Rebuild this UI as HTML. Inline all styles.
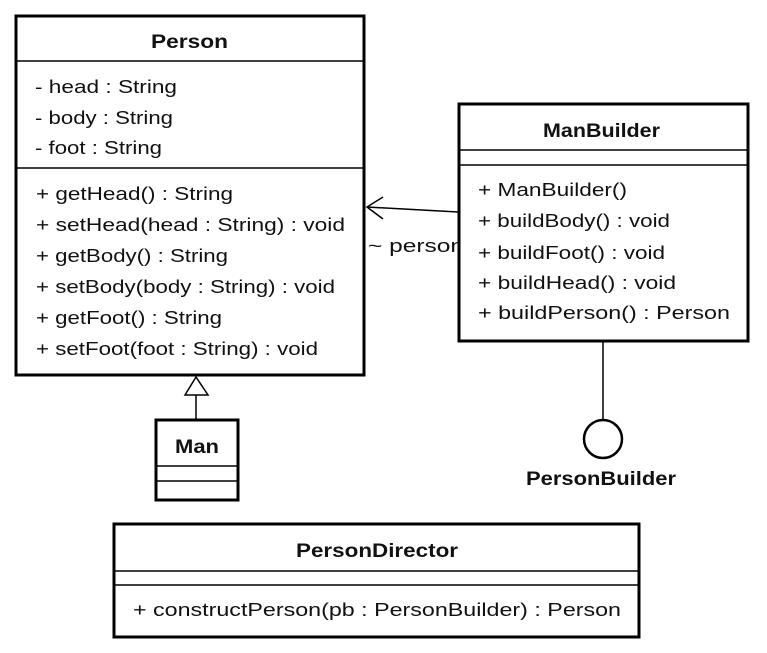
<!DOCTYPE html>
<html><head><meta charset="utf-8"><style>
html,body{margin:0;padding:0;background:#fff;}
svg{display:block;}
text{font-family:"Liberation Sans",Arial,sans-serif;font-size:18px;fill:#111;}
.b{font-weight:bold;font-size:19px;}
</style></head><body>
<svg width="767" height="653" viewBox="0 0 767 653" xmlns="http://www.w3.org/2000/svg">
<rect width="767" height="653" fill="#fff"/>
<!-- Person -->
<rect x="16" y="16" width="348" height="359" fill="#fff" stroke="#000" stroke-width="3"/>
<line x1="16" y1="61" x2="364" y2="61" stroke="#000" stroke-width="1.5"/>
<line x1="16" y1="168" x2="364" y2="168" stroke="#000" stroke-width="1.5"/>
<text class="b" x="151" y="48" textLength="77" lengthAdjust="spacingAndGlyphs">Person</text>
<text x="35" y="93" textLength="142" lengthAdjust="spacingAndGlyphs">- head : String</text>
<text x="35" y="124" textLength="138" lengthAdjust="spacingAndGlyphs">- body : String</text>
<text x="35" y="154" textLength="127" lengthAdjust="spacingAndGlyphs">- foot : String</text>
<text x="36" y="200" textLength="197" lengthAdjust="spacingAndGlyphs">+ getHead() : String</text>
<text x="36" y="231" textLength="309" lengthAdjust="spacingAndGlyphs">+ setHead(head : String) : void</text>
<text x="36" y="262" textLength="192" lengthAdjust="spacingAndGlyphs">+ getBody() : String</text>
<text x="36" y="293" textLength="299" lengthAdjust="spacingAndGlyphs">+ setBody(body : String) : void</text>
<text x="36" y="324" textLength="186" lengthAdjust="spacingAndGlyphs">+ getFoot() : String</text>
<text x="36" y="355" textLength="282" lengthAdjust="spacingAndGlyphs">+ setFoot(foot : String) : void</text>
<!-- generalization -->
<polygon points="196,377 185,395 208,395" fill="#fff" stroke="#000" stroke-width="1.5"/>
<line x1="196" y1="395" x2="196" y2="420" stroke="#000" stroke-width="1.5"/>
<!-- Man -->
<rect x="156" y="420" width="82" height="80" fill="#fff" stroke="#000" stroke-width="3"/>
<line x1="156" y1="466" x2="238" y2="466" stroke="#000" stroke-width="1.5"/>
<line x1="156" y1="481" x2="238" y2="481" stroke="#000" stroke-width="1.5"/>
<text class="b" x="175" y="453" textLength="44" lengthAdjust="spacingAndGlyphs">Man</text>
<!-- association -->
<line x1="458" y1="212" x2="367" y2="207" stroke="#000" stroke-width="1.5"/>
<polyline points="383,197 367,207 383,219" fill="none" stroke="#000" stroke-width="1.5"/>
<text x="368" y="252" textLength="96" lengthAdjust="spacingAndGlyphs">~ person</text>
<!-- ManBuilder -->
<rect x="459" y="104" width="289" height="237" fill="#fff" stroke="#000" stroke-width="3"/>
<line x1="459" y1="150" x2="748" y2="150" stroke="#000" stroke-width="1.5"/>
<line x1="459" y1="165" x2="748" y2="165" stroke="#000" stroke-width="1.5"/>
<text class="b" x="543" y="137" textLength="117" lengthAdjust="spacingAndGlyphs">ManBuilder</text>
<text x="478" y="196" textLength="149" lengthAdjust="spacingAndGlyphs">+ ManBuilder()</text>
<text x="478" y="227" textLength="192" lengthAdjust="spacingAndGlyphs">+ buildBody() : void</text>
<text x="478" y="259" textLength="187" lengthAdjust="spacingAndGlyphs">+ buildFoot() : void</text>
<text x="478" y="289" textLength="198" lengthAdjust="spacingAndGlyphs">+ buildHead() : void</text>
<text x="478" y="319" textLength="252" lengthAdjust="spacingAndGlyphs">+ buildPerson() : Person</text>
<!-- interface -->
<line x1="603" y1="342" x2="603" y2="420" stroke="#000" stroke-width="1.5"/>
<circle cx="603" cy="439" r="19" fill="#fff" stroke="#000" stroke-width="2.5"/>
<text class="b" x="526" y="485" textLength="150" lengthAdjust="spacingAndGlyphs">PersonBuilder</text>
<!-- PersonDirector -->
<rect x="114" y="524" width="525" height="113" fill="#fff" stroke="#000" stroke-width="3"/>
<line x1="114" y1="571" x2="639" y2="571" stroke="#000" stroke-width="1.5"/>
<line x1="114" y1="585" x2="639" y2="585" stroke="#000" stroke-width="1.5"/>
<text class="b" x="296" y="557" textLength="162" lengthAdjust="spacingAndGlyphs">PersonDirector</text>
<text x="133" y="616" textLength="488" lengthAdjust="spacingAndGlyphs">+ constructPerson(pb : PersonBuilder) : Person</text>
</svg>
</body></html>
